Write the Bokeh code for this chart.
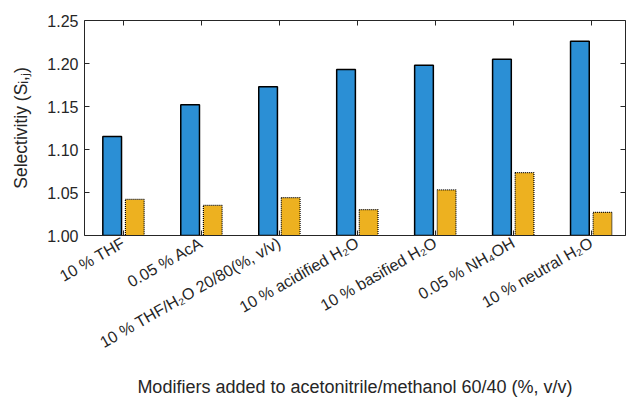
from bokeh.plotting import figure
from bokeh.models import LinearAxis, FixedTicker, Range1d, ColumnDataSource, CustomLabelingPolicy
from bokeh.embed import file_html
from bokeh.resources import INLINE

categories = ["10 % THF", "0.05 % AcA", "10 % THF/H\u2082O 20/80(%, v/v)",
              "10 % acidified H\u2082O", "10 % basified H\u2082O",
              "0.05 % NH\u2084OH", "10 % neutral H\u2082O"]
series_a = [1.115, 1.152, 1.173, 1.193, 1.198, 1.205, 1.226]
series_b = [1.042, 1.035, 1.044, 1.030, 1.053, 1.073, 1.027]
y_ticks = [1.00, 1.05, 1.10, 1.15, 1.20, 1.25]
x_title = "Modifiers added to acetonitrile/methanol 60/40 (%, v/v)"
y_title = "Selectivitiy (S\u1d62,\u2c7c)"

FONT = "Liberation Sans"
AX = "#262626"

pos = list(range(1, len(categories) + 1))
off = 0.145
src_a = ColumnDataSource(dict(x=[p_ - off for p_ in pos], top=series_a))
src_b = ColumnDataSource(dict(x=[p_ + off for p_ in pos], top=series_b))

p = figure(frame_width=541, frame_height=215, output_backend="svg", toolbar_location=None,
           x_range=Range1d(0.5, 7.44), y_range=Range1d(1.0, 1.25),
           x_axis_location=None, y_axis_location=None,
           min_border_left=84, min_border_right=4, min_border_top=20, min_border_bottom=150)
p.grid.visible = False
p.outline_line_color = None
p.background_fill_color = "white"
p.border_fill_color = "white"

p.vbar(x="x", top="top", bottom=1.0, width=0.24, source=src_a,
       fill_color="#2B8FD5", line_color="black", line_width=1.5)
p.vbar(x="x", top="top", bottom=1.0, width=0.24, source=src_b,
       fill_color="#EDB120", line_color="black", line_width=1.2, line_dash="1 1")

no_labels = CustomLabelingPolicy(code="""
    for (const i of indices) indices.unset(i)
    return indices
""")

def style(ax, labels=True):
    ax.axis_line_color = AX
    ax.axis_line_width = 1
    ax.major_tick_line_color = AX
    ax.major_tick_in = 5
    ax.major_tick_out = 0
    ax.minor_tick_line_color = None
    ax.major_label_text_font = FONT
    ax.major_label_text_color = AX
    ax.axis_label_text_font = FONT
    ax.axis_label_text_color = AX
    ax.axis_label_text_font_style = "normal"
    if not labels:
        ax.major_label_policy = no_labels
        ax.major_label_standoff = 0

xt = FixedTicker(ticks=pos)
yt = FixedTicker(ticks=y_ticks)

bx = LinearAxis(ticker=xt, major_label_overrides={i: c for i, c in zip(pos, categories)},
                axis_label=x_title)
style(bx)
bx.major_label_orientation = 0.52
bx.major_label_text_font_size = "16px"
bx.major_label_standoff = 6
bx.axis_label_text_font_size = "18px"
bx.axis_label_standoff = 16
p.add_layout(bx, "below")

ly = LinearAxis(ticker=yt, axis_label=y_title)
style(ly)
ly.major_label_overrides = {t: f"{t:.2f}" for t in y_ticks}
ly.major_label_text_font_size = "16px"
ly.axis_label_text_font_size = "17.5px"
ly.major_label_standoff = 6
ly.axis_label_standoff = 13
p.add_layout(ly, "left")

tx = LinearAxis(ticker=xt)
style(tx, labels=False)
p.add_layout(tx, "above")

ry = LinearAxis(ticker=yt)
style(ry, labels=False)
p.add_layout(ry, "right")

open("out.html", "w").write(file_html(p, INLINE))
